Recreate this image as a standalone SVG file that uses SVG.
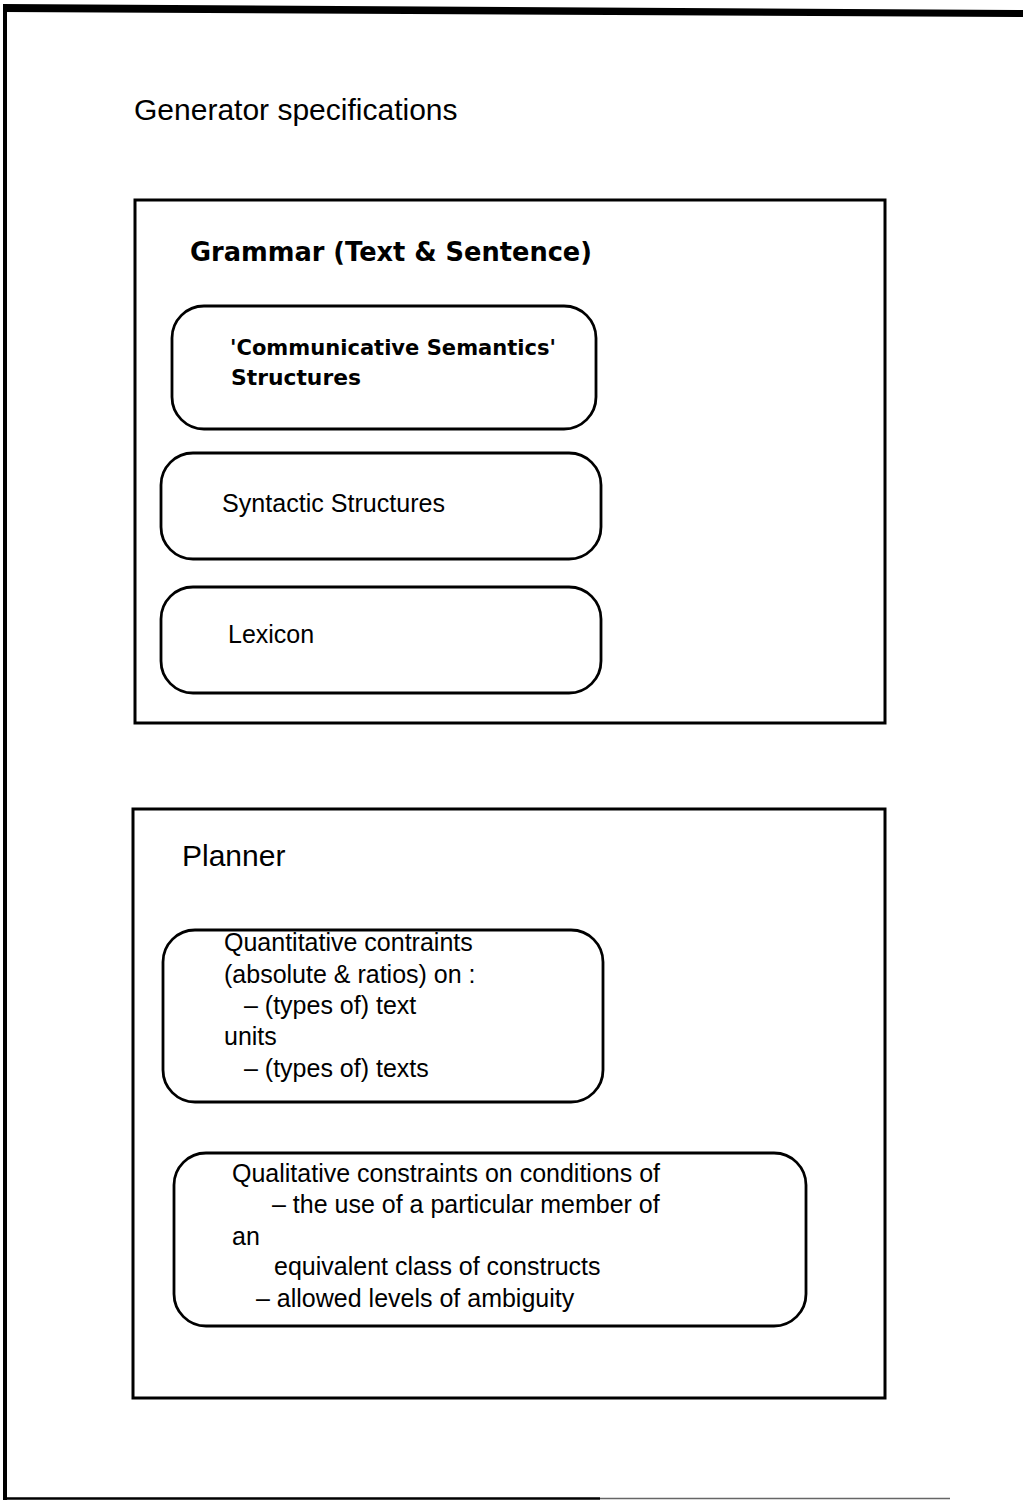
<svg xmlns="http://www.w3.org/2000/svg" width="1023" height="1502" viewBox="0 0 1023 1502">
<style>
.box{fill:none;stroke:#000;stroke-width:3}
.rbox{fill:none;stroke:#000;stroke-width:2.8}
.t{font-family:"Liberation Sans",Arial,sans-serif;fill:#000}
.c{font-family:"DejaVu Sans","Liberation Sans",sans-serif;font-weight:bold;fill:#000}
</style>
<rect width="1023" height="1502" fill="#fff"/>
<g id="frame">
<polygon points="3,4 1023,10 1023,17 3,12" fill="#000"/>
<rect x="3" y="4" width="4" height="1496" fill="#000"/>
<line x1="3" y1="1498.5" x2="600" y2="1498.5" stroke="#000" stroke-width="2.5"/>
<line x1="600" y1="1498.5" x2="950" y2="1498.5" stroke="#666" stroke-width="1.5"/>
</g>
<text class="t" x="134" y="120" font-size="30">Generator specifications</text>
<g id="grammar">
<rect class="box" x="135" y="200" width="750" height="523"/>
<text class="c" x="190" y="261" font-size="27" textLength="402" lengthAdjust="spacingAndGlyphs">Grammar (Text &amp; Sentence)</text>
</g>
<g id="comm-sem">
<rect class="rbox" x="172" y="306" width="424" height="123" rx="32" ry="32"/>
<text class="c" x="230" y="355" font-size="22" textLength="326" lengthAdjust="spacingAndGlyphs">'Communicative Semantics'</text>
<text class="c" x="231" y="385" font-size="22" textLength="130" lengthAdjust="spacingAndGlyphs">Structures</text>
</g>
<g id="syntactic">
<rect class="rbox" x="161" y="453" width="440" height="106" rx="32" ry="32"/>
<text class="t" x="222" y="512" font-size="25" textLength="223" lengthAdjust="spacingAndGlyphs">Syntactic Structures</text>
</g>
<g id="lexicon">
<rect class="rbox" x="161" y="587" width="440" height="106" rx="32" ry="32"/>
<text class="t" x="228" y="643" font-size="25">Lexicon</text>
</g>
<g id="planner">
<rect class="box" x="133" y="809" width="752" height="589"/>
<text class="t" x="182" y="866" font-size="30">Planner</text>
</g>
<g id="quantitative">
<rect class="rbox" x="163" y="930" width="440" height="172" rx="32" ry="32"/>
<text class="t" font-size="25">
<tspan x="224" y="951">Quantitative contraints</tspan>
<tspan x="224" y="983">(absolute &amp; ratios) on :</tspan>
<tspan x="244" y="1014">– (types of) text</tspan>
<tspan x="224" y="1045">units</tspan>
<tspan x="244" y="1077">– (types of) texts</tspan>
</text>
</g>
<g id="qualitative">
<rect class="rbox" x="174" y="1153" width="632" height="173" rx="32" ry="32"/>
<text class="t" font-size="25">
<tspan x="232" y="1182">Qualitative constraints on conditions of</tspan>
<tspan x="272" y="1213">– the use of a particular member of</tspan>
<tspan x="232" y="1245">an</tspan>
<tspan x="274" y="1275">equivalent class of constructs</tspan>
<tspan x="256" y="1307">– allowed levels of ambiguity</tspan>
</text>
</g>
<g id="connectors"></g>
</svg>
